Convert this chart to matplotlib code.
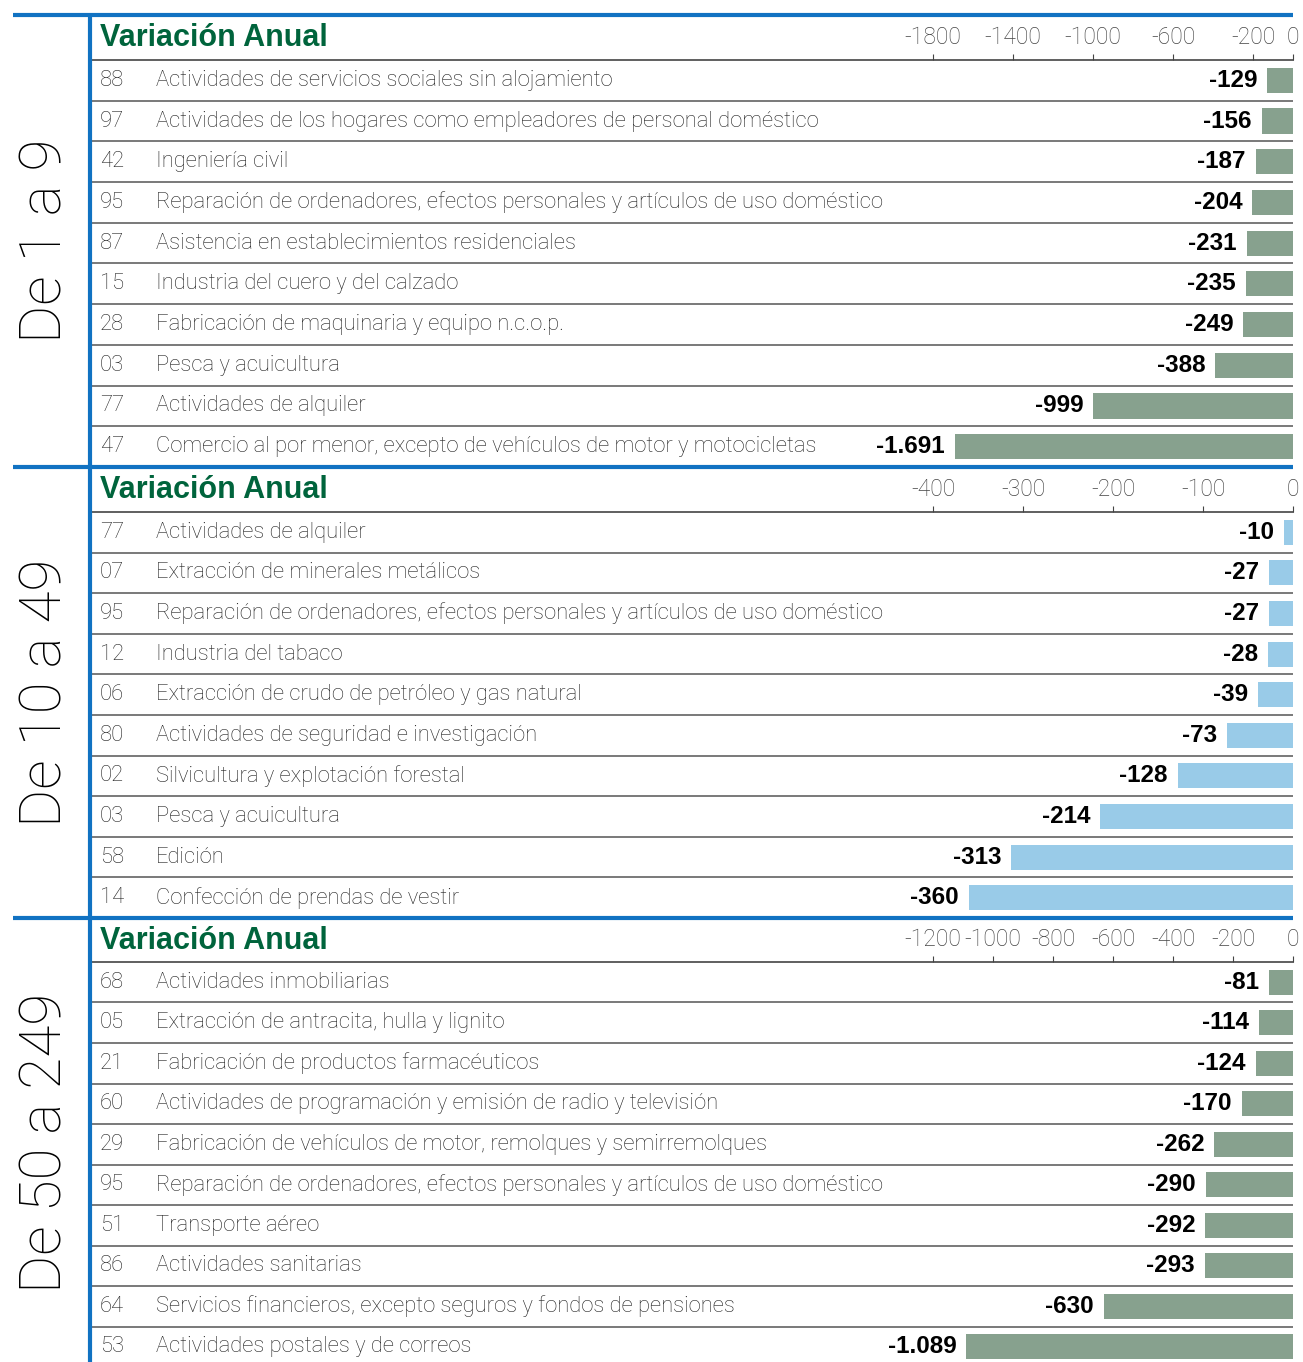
import matplotlib
matplotlib.use('Agg')
import matplotlib.pyplot as plt
import matplotlib.transforms as mtransforms
from matplotlib.lines import Line2D

# ---- data ----
titles = ['De 1 a 9', 'De 10 a 49', 'De 50 a 249']

codes_1 = ['88', '97', '42', '95', '87', '15', '28', '03', '77', '47']
labels_1 = ['Actividades de servicios sociales sin alojamiento',
            'Actividades de los hogares como empleadores de personal doméstico',
            'Ingeniería civil',
            'Reparación de ordenadores, efectos personales y artículos de uso doméstico',
            'Asistencia en establecimientos residenciales',
            'Industria del cuero y del calzado',
            'Fabricación de maquinaria y equipo n.c.o.p.',
            'Pesca y acuicultura',
            'Actividades de alquiler',
            'Comercio al por menor, excepto de vehículos de motor y motocicletas']
values_1 = [-129, -156, -187, -204, -231, -235, -249, -388, -999, -1691]
ticks_1 = [-1800, -1400, -1000, -600, -200, 0]

codes_2 = ['77', '07', '95', '12', '06', '80', '02', '03', '58', '14']
labels_2 = ['Actividades de alquiler',
            'Extracción de minerales metálicos',
            'Reparación de ordenadores, efectos personales y artículos de uso doméstico',
            'Industria del tabaco',
            'Extracción de crudo de petróleo y gas natural',
            'Actividades de seguridad e investigación',
            'Silvicultura y explotación forestal',
            'Pesca y acuicultura',
            'Edición',
            'Confección de prendas de vestir']
values_2 = [-10, -27, -27, -28, -39, -73, -128, -214, -313, -360]
ticks_2 = [-400, -300, -200, -100, 0]

codes_3 = ['68', '05', '21', '60', '29', '95', '51', '86', '64', '53']
labels_3 = ['Actividades inmobiliarias',
            'Extracción de antracita, hulla y lignito',
            'Fabricación de productos farmacéuticos',
            'Actividades de programación y emisión de radio y televisión',
            'Fabricación de vehículos de motor, remolques y semirremolques',
            'Reparación de ordenadores, efectos personales y artículos de uso doméstico',
            'Transporte aéreo',
            'Actividades sanitarias',
            'Servicios financieros, excepto seguros y fondos de pensiones',
            'Actividades postales y de correos']
values_3 = [-81, -114, -124, -170, -262, -290, -292, -293, -630, -1089]
ticks_3 = [-1200, -1000, -800, -600, -400, -200, 0]

# ---- style / layout ----
W, H = 1303, 1362
GREEN_BAR = '#87a18e'
BLUE_BAR = '#99cbe8'
BLUE = '#1172c2'
HEAD_GREEN = '#00643c'
TXT = '#222222'
LIGHT = ['Roboto', 'DejaVu Sans']
BOLD = ['Liberation Sans', 'DejaVu Sans']

X_LEFT, X_ZERO, X_TICK = 90, 1293, 933   # blue rule, zero, leftmost tick (px)

# (top blue rule, header line, row height, bar colour, data...)
panels = [
    (15, 60, 40.7, GREEN_BAR, codes_1, labels_1, values_1, ticks_1),
    (467, 512, 40.6, BLUE_BAR, codes_2, labels_2, values_2, ticks_2),
    (918, 962, 40.5, GREEN_BAR, codes_3, labels_3, values_3, ticks_3),
]


def fx(px):
    return px / W


def fy(py):
    return 1 - py / H


def fmt(v):
    return f'{v:,}'.replace(',', '.')


fig = plt.figure(figsize=(W / 100, H / 100), dpi=100)

for p, (y_blue, y_head, row_h, col, codes, labels, values, ticks) in enumerate(panels):
    n = len(values)
    y_bot = y_head + n * row_h
    ax = fig.add_axes([fx(X_LEFT), fy(y_bot), fx(X_ZERO) - fx(X_LEFT), (y_bot - y_head) / H])
    ax.barh(range(n), values, height=0.62, color=col, zorder=2)
    ax.set_xlim(ticks[0] * (X_ZERO - X_LEFT) / (X_ZERO - X_TICK), 0)
    ax.set_ylim(n - 0.5, -0.5)
    ax.set_yticks([])
    ax.xaxis.tick_top()
    ax.set_xticks(ticks)
    ax.set_xticklabels([str(t) for t in ticks])
    ax.tick_params(axis='x', length=4, width=0.8, color='#444444', pad=4,
                   labelsize=16.5, labelcolor='#444444')
    for lab in ax.get_xticklabels():
        lab.set_family(LIGHT)
        lab.set_fontweight('light')
    for s in ['left', 'right', 'bottom']:
        ax.spines[s].set_visible(False)
    ax.spines['top'].set_color('#444444')
    ax.spines['top'].set_linewidth(1.2)
    for k in range(1, n):
        ax.axhline(k - 0.5, color='#555555', lw=1.1, zorder=1)

    trans = mtransforms.blended_transform_factory(ax.transAxes, ax.transData)
    for i, (c, lab, v) in enumerate(zip(codes, labels, values)):
        ax.text((100 - X_LEFT) / (X_ZERO - X_LEFT), i, c, transform=trans,
                ha='left', va='center', fontsize=15.8, color=TXT,
                family=LIGHT, fontweight='light')
        ax.text((156 - X_LEFT) / (X_ZERO - X_LEFT), i, lab, transform=trans,
                ha='left', va='center', fontsize=15.8, color=TXT,
                family=LIGHT, fontweight='light')
        ax.annotate(fmt(v), xy=(v, i), xytext=(-10, 0), textcoords='offset pixels',
                    ha='right', va='center', fontsize=17.5, fontweight='bold',
                    family=BOLD, color='black')

    # header
    fig.text(fx(100), fy((y_blue + y_head) / 2 + 1), 'Variación Anual', ha='left',
             va='center', fontsize=22, fontweight='bold', family=BOLD, color=HEAD_GREEN)
    # blue horizontal rule
    fig.add_artist(Line2D([fx(13), fx(X_ZERO)], [fy(y_blue), fy(y_blue)],
                          color=BLUE, lw=3, solid_capstyle='butt'))
    # size band label
    y_end = y_bot if p < 2 else H + 5
    fig.text(fx(46), fy((y_blue + y_end) / 2), titles[p], rotation=90, ha='center',
             va='center', fontsize=42, family=LIGHT, fontweight='light', color='black')

# vertical blue rule
fig.add_artist(Line2D([fx(X_LEFT), fx(X_LEFT)], [fy(15), 0], color=BLUE, lw=3,
                      solid_capstyle='butt'))

fig.savefig('out.png', dpi=100)
